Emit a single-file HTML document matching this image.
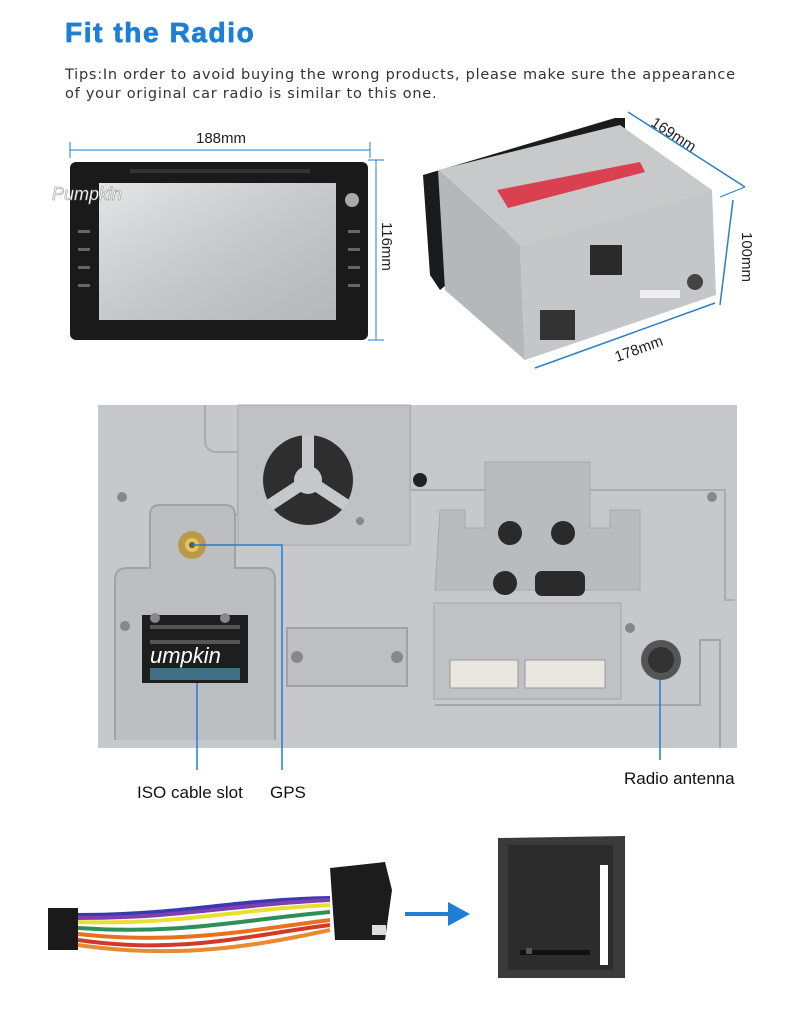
<!DOCTYPE html>
<html><head><meta charset="utf-8"><style>
body{margin:0;width:800px;height:1015px;background:#fff;overflow:hidden;position:relative;font-family:"Liberation Sans",sans-serif}
.t{position:absolute}
</style></head><body>
<div class="t" style="left:65px;top:17px;font-size:28px;font-weight:bold;color:#1e7fd4;letter-spacing:1.6px;-webkit-text-stroke:0.8px #1e7fd4">Fit the Radio</div>
<div class="t" style="left:65px;top:66px;font-family:'DejaVu Sans',sans-serif;font-size:14.5px;color:#333;line-height:19px;letter-spacing:0.75px;width:682px">Tips:In order to avoid buying the wrong products, please make sure the appearance of your original car radio is similar to this one.</div>

<svg class="t" style="left:0;top:0" width="800" height="1015" viewBox="0 0 800 1015">
<defs><linearGradient id="g1" x1="0" y1="0" x2="1" y2="1"><stop offset="0" stop-color="#fff" stop-opacity=".5"/><stop offset="1" stop-color="#888" stop-opacity=".3"/></linearGradient></defs>
<line x1="70" y1="150" x2="370" y2="150" stroke="#1e7fd4" stroke-width="1"/>
<line x1="70" y1="142" x2="70" y2="158" stroke="#1e7fd4"/>
<line x1="370" y1="142" x2="370" y2="158" stroke="#1e7fd4"/>
<text x="196" y="143" font-family="Liberation Sans" font-size="15" fill="#222">188mm</text>
<line x1="376" y1="160" x2="376" y2="340" stroke="#1e7fd4"/>
<line x1="368" y1="160" x2="384" y2="160" stroke="#1e7fd4"/>
<line x1="368" y1="340" x2="384" y2="340" stroke="#1e7fd4"/>
<text transform="translate(382,222) rotate(90)" font-family="Liberation Sans" font-size="15" fill="#222">116mm</text>
<rect x="70" y="162" width="298" height="178" rx="6" fill="#1a1a1a"/>
<rect x="99" y="183" width="237" height="137" fill="#c9cdd1"/>
<rect x="99" y="183" width="237" height="137" fill="url(#g1)"/>
<rect x="130" y="169" width="180" height="4" fill="#333"/>
<circle cx="352" cy="200" r="7" fill="#aaa"/>
<g fill="#666"><rect x="78" y="230" width="12" height="3"/><rect x="78" y="248" width="12" height="3"/><rect x="78" y="266" width="12" height="3"/><rect x="78" y="284" width="12" height="3"/><rect x="348" y="230" width="12" height="3"/><rect x="348" y="248" width="12" height="3"/><rect x="348" y="266" width="12" height="3"/><rect x="348" y="284" width="12" height="3"/></g>
<text x="52" y="200" font-family="Liberation Sans" font-size="18" fill="#fff" stroke="#888" stroke-width=".5" font-style="italic">Pumpkin</text>

<polygon points="423,175 615,118 625,118 625,140 440,290 430,275" fill="#1b1b1b"/>
<polygon points="438,170 620,125 712,190 520,245" fill="#c7c9cb"/>
<polygon points="438,170 520,245 525,360 445,290" fill="#b5b8bb"/>
<polygon points="520,245 712,190 716,295 525,360" fill="#c4c6c9"/>
<polygon points="497,190 640,162 645,172 508,208" fill="#d94050"/>
<rect x="590" y="245" width="32" height="30" fill="#2a2a2a"/>
<rect x="540" y="310" width="35" height="30" fill="#333"/>
<circle cx="695" cy="282" r="8" fill="#444"/>
<rect x="640" y="290" width="40" height="8" fill="#eee"/>
<line x1="628" y1="112" x2="745" y2="187" stroke="#2a7fc8" stroke-width="1.5"/>
<line x1="720" y1="197" x2="745" y2="187" stroke="#2a7fc8"/>
<text transform="translate(650,125) rotate(33)" font-family="Liberation Sans" font-size="15" fill="#222">169mm</text>
<line x1="733" y1="200" x2="720" y2="305" stroke="#2a7fc8" stroke-width="1.5"/>
<text transform="translate(742,232) rotate(90)" font-family="Liberation Sans" font-size="15" fill="#222">100mm</text>
<line x1="535" y1="368" x2="715" y2="303" stroke="#2a7fc8" stroke-width="1.5"/>
<text transform="translate(617,362) rotate(-20)" font-family="Liberation Sans" font-size="15" fill="#222">178mm</text>

<rect x="98" y="405" width="639" height="343" fill="#c6c8cb"/>
<path d="M205 405 V440 Q205 452 217 452 H238 V515 H215 Q203 515 203 527 V585 L230 600 V740" fill="none" stroke="#a9acb0" stroke-width="2"/>
<path d="M410 405 V490 H725 V600 H735" fill="none" stroke="#a9acb0" stroke-width="2"/>
<rect x="238" y="405" width="172" height="140" fill="#bfc1c4" stroke="#aaa"/>
<circle cx="308" cy="480" r="45" fill="#2e2e2e"/>
<path d="M308 480 L308 435 M308 480 L270 505 M308 480 L346 505" stroke="#c6c8cb" stroke-width="12"/>
<circle cx="308" cy="480" r="14" fill="#c6c8cb"/>
<circle cx="420" cy="480" r="7" fill="#222"/>
<path d="M440 510 H465 V528 H485 V462 H590 V528 H610 V510 H640 V590 H435 Z" fill="#b9bbbe" stroke="#a6a8ab"/>
<circle cx="510" cy="533" r="12" fill="#2a2a2a"/><circle cx="563" cy="533" r="12" fill="#2a2a2a"/>
<circle cx="505" cy="583" r="12" fill="#2a2a2a"/><rect x="535" y="571" width="50" height="25" rx="7" fill="#2a2a2a"/>
<path d="M115 740 V580 Q115 568 127 568 H150 V515 Q150 505 160 505 H225 Q235 505 235 515 V568 H265 Q275 568 275 580 V740" fill="#bcbec1" stroke="#9fa2a6" stroke-width="2"/>
<circle cx="192" cy="545" r="14" fill="#b89a48"/><circle cx="192" cy="545" r="7" fill="#e3c35a"/><circle cx="192" cy="545" r="3" fill="#555"/>
<rect x="142" y="615" width="106" height="68" fill="#1e1e1e"/>
<g fill="#555"><rect x="150" y="625" width="90" height="4"/><rect x="150" y="640" width="90" height="4"/></g>
<rect x="150" y="668" width="90" height="12" fill="#3e6f85"/>
<rect x="287" y="628" width="120" height="58" fill="#bdbfc2" stroke="#9fa2a6" stroke-width="2"/>
<circle cx="297" cy="657" r="6" fill="#888"/><circle cx="397" cy="657" r="6" fill="#888"/>
<rect x="434" y="603" width="187" height="96" fill="#bfc1c4" stroke="#a3a5a8"/>
<rect x="450" y="660" width="68" height="28" fill="#e9e7df" stroke="#999"/>
<rect x="525" y="660" width="80" height="28" fill="#e9e7df" stroke="#999"/>
<circle cx="661" cy="660" r="20" fill="#555"/><circle cx="661" cy="660" r="13" fill="#333"/>
<path d="M435 705 H700 V640 H720 V748" fill="none" stroke="#a3a5a8" stroke-width="2"/>
<g fill="#888"><circle cx="122" cy="497" r="5"/><circle cx="712" cy="497" r="5"/><circle cx="125" cy="626" r="5"/><circle cx="630" cy="628" r="5"/><circle cx="360" cy="521" r="4"/><circle cx="225" cy="618" r="5"/><circle cx="155" cy="618" r="5"/></g>
<text x="150" y="663" font-family="Liberation Sans" font-size="22" fill="#fff" font-style="italic">umpkin</text>
<polyline points="192,545 282,545 282,770" fill="none" stroke="#1e7fd4" stroke-width="1.5"/>
<line x1="197" y1="683" x2="197" y2="770" stroke="#1e7fd4" stroke-width="1.5"/>
<line x1="660" y1="680" x2="660" y2="760" stroke="#1e7fd4" stroke-width="1.5"/>
<text x="137" y="798" font-family="Liberation Sans" font-size="17" fill="#111">ISO cable slot</text>
<text x="270" y="798" font-family="Liberation Sans" font-size="17" fill="#111">GPS</text>
<text x="624" y="784" font-family="Liberation Sans" font-size="17" fill="#111">Radio antenna</text>

<rect x="48" y="908" width="30" height="42" fill="#1a1a1a"/>
<g fill="none" stroke-width="4">
<path d="M78 915 C180 915 230 900 330 898" stroke="#3a3ab0"/>
<path d="M78 922 C180 925 230 910 330 905" stroke="#e8e030"/>
<path d="M78 928 C180 935 240 920 330 912" stroke="#2f8f5a"/>
<path d="M78 934 C180 945 250 930 330 920" stroke="#e87020"/>
<path d="M78 940 C180 955 250 935 330 925" stroke="#d03a2a"/>
<path d="M78 945 C180 960 260 945 330 930" stroke="#e88a30"/>
<path d="M78 918 C180 918 230 905 330 900" stroke="#8040b0"/>
</g>
<polygon points="330,868 385,862 392,890 385,940 335,940" fill="#1c1c1c"/>
<rect x="372" y="925" width="14" height="10" fill="#ddd"/>
<line x1="405" y1="914" x2="455" y2="914" stroke="#1e7fd4" stroke-width="4"/>
<polygon points="448,902 470,914 448,926" fill="#1e7fd4"/>
<polygon points="498,838 625,836 625,978 498,978" fill="#3a3a3a"/>
<rect x="508" y="845" width="105" height="125" fill="#2c2c2c"/>
<rect x="600" y="865" width="8" height="100" fill="#fff"/>
<rect x="520" y="950" width="70" height="5" fill="#111"/>
<rect x="526" y="948" width="6" height="6" fill="#555"/>
</svg>
</body></html>
